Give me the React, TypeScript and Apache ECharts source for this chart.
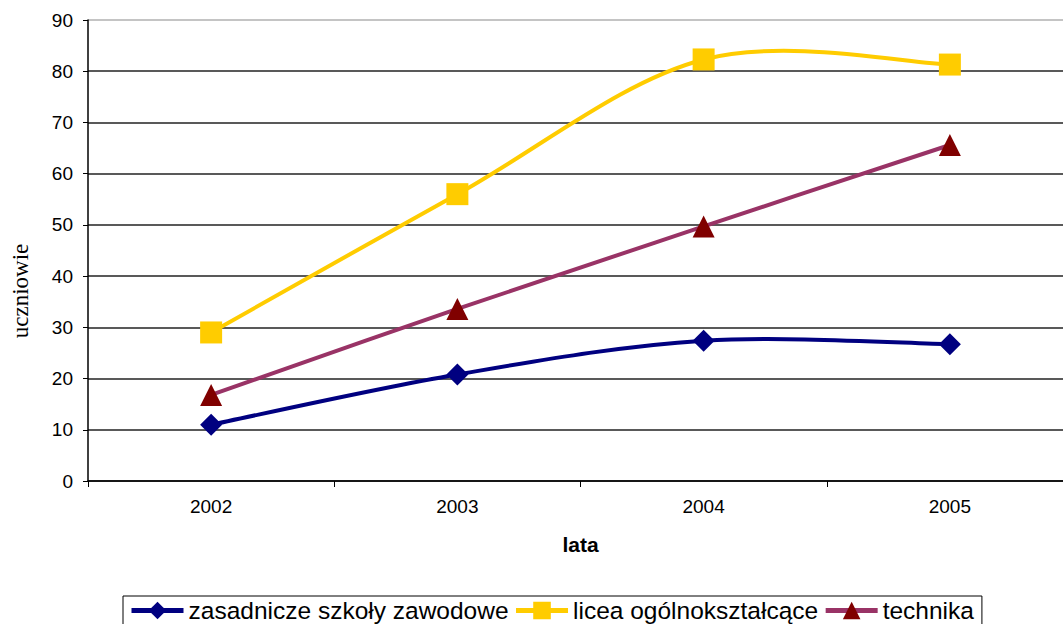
import React, { useEffect, useRef } from "react";
import * as echarts from "echarts";

const years = ["2002", "2003", "2004", "2005"];
const zasadnicze = [11, 20.8, 27.4, 26.7];
const licea = [29, 56, 82.3, 81.3];
const technika = [16.8, 33.6, 49.7, 65.6];
const yTicks = { min: 0, max: 90, interval: 10 };

const names = ["zasadnicze szkoły zawodowe", "licea ogólnokształcące", "technika"];
const lineColors = ["#000080", "#FFCC00", "#993366"];
const markerColors = ["#000080", "#FFCC00", "#800000"];
const symbols = ["diamond", "rect", "triangle"];
const seriesValues = [zasadnicze, licea, technika];

const FONT = "Liberation Sans, Arial, sans-serif";

function curveSeries(values: number[], color: string) {
  return {
    type: "custom",
    name: "_curve_" + color,
    z: 1,
    silent: true,
    data: values.map((v, i) => [i, v]),
    encode: { x: 0, y: 1 },
    renderItem: (params: any, api: any) => {
      if (params.dataIndex !== 0) return null;
      const pts = values.map((v, i) => api.coord([i, v]));
      const children: any[] = [];
      for (let i = 0; i < pts.length - 1; i++) {
        const p0 = pts[i - 1] || pts[i];
        const p1 = pts[i];
        const p2 = pts[i + 1];
        const p3 = pts[i + 2] || pts[i + 1];
        children.push({
          type: "bezierCurve",
          shape: {
            x1: p1[0],
            y1: p1[1],
            x2: p2[0],
            y2: p2[1],
            cpx1: p1[0] + (p2[0] - p0[0]) / 6,
            cpy1: p1[1] + (p2[1] - p0[1]) / 6,
            cpx2: p2[0] - (p3[0] - p1[0]) / 6,
            cpy2: p2[1] - (p3[1] - p1[1]) / 6,
          },
          style: { stroke: color, lineWidth: 4, fill: null, lineCap: "round" },
        });
      }
      return { type: "group", children };
    },
  };
}

export default function App() {
  const ref = useRef<HTMLDivElement>(null);
  useEffect(() => {
    document.body.style.margin = "0";
    const chart = echarts.init(ref.current!, null, { renderer: "svg" });
    const gridColors = ["#222", "#222", "#222", "#222", "#222", "#222", "#222", "#222", "#222", "#b0b0b0"];
    chart.setOption({
      animation: false,
      backgroundColor: "#ffffff",
      grid: { left: 88, top: 20, width: 985, height: 461, containLabel: false },
      graphic: [
        {
          type: "text",
          x: 20,
          y: 291,
          rotation: Math.PI / 2,
          style: {
            text: "uczniowie",
            fontFamily: "Liberation Serif, Times New Roman, serif",
            fontSize: 23,
            fill: "#000",
            textAlign: "center",
            textVerticalAlign: "middle",
          },
        },
      ],
      legend: {
        top: 596,
        left: 123,
        itemGap: 5,
        itemWidth: 52,
        itemHeight: 22,
        padding: [2, 8, 8, 6],
        borderColor: "#000",
        borderWidth: 1,
        textStyle: { fontFamily: FONT, fontSize: 24.5, color: "#000" },
        data: names.map((n, i) => ({
          name: n,
          lineStyle: { color: lineColors[i], width: 5, opacity: 1 },
          itemStyle: { color: markerColors[i], opacity: 1 },
        })),
      },
      xAxis: {
        type: "category",
        data: years,
        boundaryGap: true,
        name: "lata",
        nameLocation: "middle",
        nameGap: 53,
        nameTextStyle: { fontFamily: FONT, fontSize: 21, fontWeight: "bold", color: "#000" },
        axisLine: { lineStyle: { color: "#000", width: 1.5 } },
        axisTick: { show: true, length: 6, lineStyle: { color: "#000" } },
        axisLabel: { fontFamily: FONT, fontSize: 19, color: "#000", margin: 16 },
        splitLine: { show: false },
      },
      yAxis: {
        type: "value",
        min: yTicks.min,
        max: yTicks.max,
        interval: yTicks.interval,
        axisLine: { show: true, lineStyle: { color: "#000", width: 1.5 } },
        axisTick: { show: true, length: 5, lineStyle: { color: "#000" } },
        axisLabel: { fontFamily: FONT, fontSize: 19, color: "#000", margin: 15 },
        splitLine: { show: true, lineStyle: { color: gridColors, width: 1.5 } },
      },
      series: [
        ...seriesValues.map((vals, i) => curveSeries(vals, lineColors[i])),
        ...seriesValues.map((vals, i) => ({
          name: names[i],
          type: "line",
          z: 3,
          data: vals,
          symbol: symbols[i],
          symbolSize: 22,
          lineStyle: { color: lineColors[i], width: 0, opacity: 0 },
          itemStyle: { color: markerColors[i] },
        })),
      ],
    });
    return () => chart.dispose();
  }, []);
  return (
    <div style={{ width: 1063, height: 624, overflow: "hidden" }}>
      <div ref={ref} style={{ width: 1090, height: 624 }} />
    </div>
  );
}
